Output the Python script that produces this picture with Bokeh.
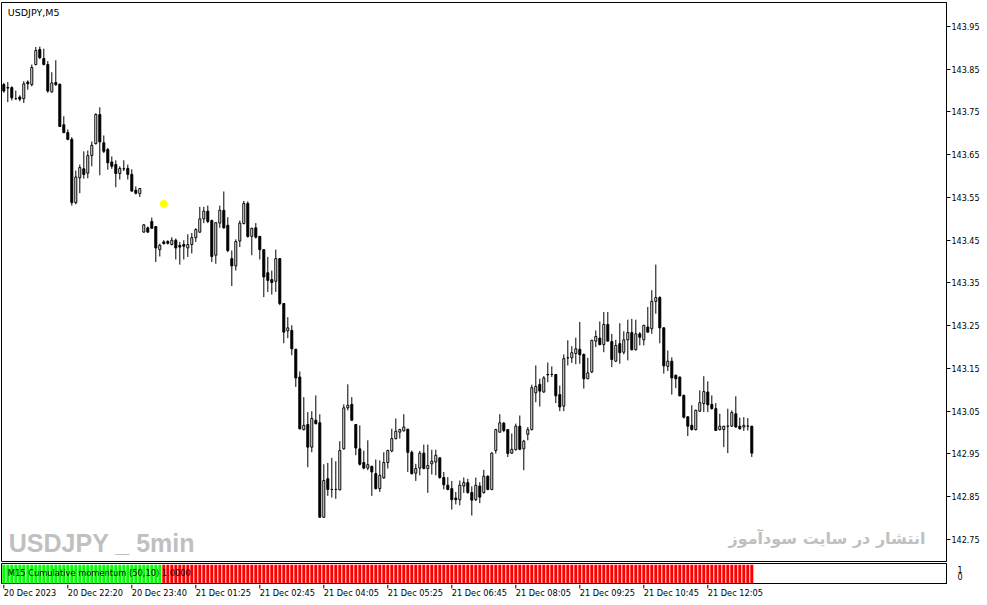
from bokeh.plotting import figure
from bokeh.models import (Range1d, FixedTicker, Label, LabelSet, ColumnDataSource,
                          NumeralTickFormatter)
from bokeh.layouts import column
from bokeh.embed import file_html
from bokeh.resources import INLINE
from bokeh.core.properties import value

symbol_title = "USDJPY,M5"
watermark_left = "USDJPY _ 5min"
watermark_right = "انتشار در سایت سودآموز"
indicator_caption = "M15 Cumulative momentum (50,10) 1.0000"

price_ticks = [142.75, 142.85, 142.95, 143.05, 143.15, 143.25, 143.35,
               143.45, 143.55, 143.65, 143.75, 143.85, 143.95]
time_tick_bars = [0, 16, 32, 48, 64, 80, 96, 112, 128, 144, 160, 176]
time_tick_labels = ["20 Dec 2023", "20 Dec 22:20", "20 Dec 23:40", "21 Dec 01:25",
                    "21 Dec 02:45", "21 Dec 04:05", "21 Dec 05:25", "21 Dec 06:45",
                    "21 Dec 08:05", "21 Dec 09:25", "21 Dec 10:45", "21 Dec 12:05"]

opens = [143.814, 143.807, 143.807, 143.781, 143.785, 143.781, 143.820, 143.814, 143.861, 143.896,
         143.875, 143.861, 143.797, 143.819, 143.815, 143.720, 143.702, 143.686, 143.538, 143.596,
         143.617, 143.607, 143.648, 143.676, 143.744, 143.678, 143.662, 143.633, 143.627, 143.606,
         143.617, 143.618, 143.604, 143.567, 143.559, 143.469, 143.479, 143.494, 143.482, 143.428,
         143.446, 143.447, 143.440, 143.450, 143.438, 143.440, 143.432, 143.440, 143.456, 143.469,
         143.500, 143.518, 143.496, 143.415, 143.490, 143.520, 143.485, 143.407, 143.390, 143.448,
         143.489, 143.536, 143.459, 143.479, 143.459, 143.428, 143.374, 143.358, 143.354, 143.407,
         143.302, 143.238, 143.239, 143.195, 143.130, 143.007, 143.019, 142.966, 143.029, 143.023,
         142.802, 142.892, 142.867, 142.867, 142.866, 142.962, 143.058, 143.066, 143.019, 142.962,
         142.930, 142.917, 142.921, 142.904, 142.869, 142.894, 142.930, 142.957, 142.986, 143.001,
         143.004, 143.008, 142.954, 142.905, 142.917, 142.952, 142.916, 142.927, 142.931, 142.941,
         142.895, 142.877, 142.869, 142.847, 142.843, 142.875, 142.883, 142.860, 142.843, 142.875,
         142.860, 142.898, 142.867, 142.958, 143.001, 143.022, 143.007, 142.952, 142.960, 143.015,
         142.962, 142.996, 143.007, 143.093, 143.113, 143.095, 143.136, 143.136, 143.136, 143.089,
         143.062, 143.175, 143.175, 143.185, 143.195, 143.183, 143.126, 143.142, 143.214, 143.221,
         143.206, 143.253, 143.213, 143.167, 143.208, 143.188, 143.217, 143.234, 143.194, 143.231,
         143.217, 143.247, 143.243, 143.307, 143.316, 143.245, 143.155, 143.167, 143.134, 143.130,
         143.087, 143.037, 143.017, 143.007, 143.050, 143.068, 143.095, 143.066, 143.056, 143.007,
         143.007, 143.015, 143.015, 143.044, 143.015, 143.013, 143.015, 143.015]
highs = [143.818, 143.820, 143.810, 143.800, 143.789, 143.822, 143.824, 143.861, 143.902, 143.903,
         143.898, 143.869, 143.843, 143.871, 143.816, 143.740, 143.709, 143.691, 143.613, 143.627,
         143.658, 143.660, 143.681, 143.747, 143.761, 143.695, 143.666, 143.646, 143.637, 143.623,
         143.637, 143.627, 143.616, 143.576, 143.572, 143.488, 143.482, 143.503, 143.483, 143.442,
         143.450, 143.450, 143.457, 143.454, 143.446, 143.450, 143.464, 143.467, 143.478, 143.528,
         143.528, 143.531, 143.498, 143.492, 143.531, 143.564, 143.504, 143.426, 143.452, 143.496,
         143.542, 143.541, 143.479, 143.490, 143.460, 143.429, 143.411, 143.379, 143.428, 143.408,
         143.303, 143.270, 143.251, 143.196, 143.143, 143.083, 143.048, 143.050, 143.087, 143.043,
         142.926, 142.929, 142.941, 142.933, 142.980, 143.066, 143.113, 143.083, 143.020, 143.017,
         142.958, 142.982, 142.923, 142.937, 142.935, 142.954, 142.960, 143.009, 143.033, 143.009,
         143.043, 143.009, 142.958, 142.927, 142.957, 142.972, 142.972, 142.960, 142.960, 142.942,
         142.908, 142.896, 142.887, 142.861, 142.888, 142.895, 142.892, 142.874, 142.895, 142.884,
         142.913, 142.900, 142.954, 143.009, 143.043, 143.025, 143.008, 142.998, 143.021, 143.040,
         142.983, 143.013, 143.112, 143.157, 143.126, 143.132, 143.164, 143.155, 143.137, 143.110,
         143.183, 143.216, 143.202, 143.222, 143.259, 143.185, 143.175, 143.217, 143.239, 143.260,
         143.282, 143.282, 143.231, 143.217, 143.256, 143.237, 143.264, 143.266, 143.264, 143.235,
         143.252, 143.294, 143.333, 143.393, 143.319, 143.247, 143.192, 143.176, 143.136, 143.131,
         143.089, 143.038, 143.064, 143.054, 143.099, 143.132, 143.120, 143.087, 143.069, 143.044,
         143.016, 143.056, 143.052, 143.085, 143.035, 143.036, 143.034, 143.016]
lows = [143.795, 143.773, 143.777, 143.779, 143.775, 143.771, 143.802, 143.810, 143.859, 143.874,
        143.859, 143.795, 143.795, 143.811, 143.715, 143.700, 143.684, 143.531, 143.534, 143.560,
        143.594, 143.595, 143.623, 143.674, 143.602, 143.654, 143.615, 143.617, 143.574, 143.592,
        143.612, 143.592, 143.563, 143.557, 143.551, 143.468, 143.467, 143.477, 143.399, 143.412,
        143.440, 143.440, 143.438, 143.405, 143.393, 143.405, 143.411, 143.419, 143.446, 143.467,
        143.490, 143.490, 143.399, 143.395, 143.479, 143.477, 143.422, 143.343, 143.379, 143.434,
        143.487, 143.456, 143.415, 143.454, 143.405, 143.317, 143.329, 143.323, 143.329, 143.298,
        143.209, 143.221, 143.181, 143.107, 143.007, 143.005, 142.919, 142.954, 143.019, 142.801,
        142.801, 142.852, 142.848, 142.845, 142.865, 142.960, 143.052, 143.027, 142.947, 142.923,
        142.914, 142.912, 142.852, 142.867, 142.861, 142.892, 142.916, 142.954, 142.984, 142.986,
        143.003, 142.908, 142.902, 142.887, 142.900, 142.914, 142.859, 142.902, 142.900, 142.892,
        142.867, 142.865, 142.820, 142.832, 142.830, 142.859, 142.857, 142.806, 142.840, 142.835,
        142.857, 142.865, 142.865, 142.951, 143.000, 143.001, 142.943, 142.950, 142.958, 142.959,
        142.912, 142.982, 143.005, 143.071, 143.061, 143.093, 143.118, 143.130, 143.069, 143.050,
        143.050, 143.157, 143.163, 143.160, 143.161, 143.103, 143.125, 143.139, 143.200, 143.204,
        143.188, 143.213, 143.153, 143.165, 143.161, 143.183, 143.169, 143.192, 143.192, 143.204,
        143.204, 143.234, 143.231, 143.278, 143.209, 143.138, 143.144, 143.089, 143.104, 143.085,
        143.033, 142.992, 143.005, 143.005, 143.049, 143.048, 143.048, 143.054, 143.004, 143.005,
        142.966, 142.952, 143.013, 143.012, 143.007, 143.004, 143.005, 142.943]
closes = [143.799, 143.806, 143.783, 143.781, 143.780, 143.816, 143.816, 143.854, 143.894, 143.877,
          143.861, 143.799, 143.818, 143.814, 143.716, 143.702, 143.686, 143.538, 143.598, 143.620,
          143.604, 143.648, 143.672, 143.744, 143.680, 143.658, 143.631, 143.623, 143.606, 143.618,
          143.617, 143.604, 143.565, 143.560, 143.571, 143.486, 143.469, 143.478, 143.432, 143.438,
          143.442, 143.443, 143.450, 143.432, 143.434, 143.436, 143.440, 143.456, 143.475, 143.500,
          143.518, 143.494, 143.412, 143.491, 143.520, 143.479, 143.426, 143.390, 143.447, 143.490,
          143.536, 143.459, 143.478, 143.457, 143.428, 143.364, 143.356, 143.351, 143.407, 143.302,
          143.235, 143.245, 143.196, 143.128, 143.009, 143.017, 142.966, 143.033, 143.021, 142.802,
          142.888, 142.867, 142.867, 142.867, 142.958, 143.058, 143.064, 143.029, 142.964, 142.926,
          142.917, 142.925, 142.908, 142.869, 142.900, 142.930, 142.958, 142.986, 143.003, 143.007,
          143.013, 142.954, 142.904, 142.916, 142.952, 142.916, 142.923, 142.933, 142.947, 142.895,
          142.878, 142.867, 142.843, 142.843, 142.877, 142.883, 142.860, 142.842, 142.877, 142.849,
          142.898, 142.867, 142.952, 143.007, 143.023, 143.005, 142.951, 142.961, 143.015, 142.961,
          142.980, 143.007, 143.105, 143.108, 143.097, 143.128, 143.135, 143.136, 143.086, 143.060,
          143.173, 143.175, 143.187, 143.196, 143.182, 143.126, 143.140, 143.216, 143.225, 143.206,
          143.253, 143.214, 143.171, 143.204, 143.187, 143.217, 143.234, 143.194, 143.231, 143.223,
          143.251, 143.235, 143.307, 143.316, 143.245, 143.156, 143.167, 143.128, 143.126, 143.086,
          143.036, 143.015, 143.007, 143.052, 143.070, 143.096, 143.065, 143.056, 143.005, 143.015,
          143.015, 143.015, 143.047, 143.013, 143.009, 143.017, 143.015, 142.952]

# indicator state per bar, as run lengths
momentum_runs = [("up", 40), ("down", 148)]
# yellow marker in the main window
signal_bar = [40]
signal_price = [143.535]

N = len(opens)
bars = list(range(N))
body_top = [max(o, c) for o, c in zip(opens, closes)]
body_bot = [min(o, c) for o, c in zip(opens, closes)]
body_fill = ["white" if c >= o else "black" for o, c in zip(opens, closes)]
candles = ColumnDataSource(dict(x=bars, h=highs, l=lows, top=body_top, bot=body_bot, fill=body_fill))

mom_colors = []
for state, count in momentum_runs:
    mom_colors += [("#00ff00" if state == "up" else "#ff0000")] * count
ind = ColumnDataSource(dict(x=bars, top=[1] * N, bot=[0] * N, color=mom_colors))

FONT = "DejaVu Sans"
LBL = "8px"
FRAME_W = 945

xr = Range1d(-0.575, 235.675)

# ---------------- main price window ----------------
p1 = figure(frame_width=FRAME_W, frame_height=559, x_range=xr,
            y_range=Range1d(142.6985, 144.0061),
            output_backend="svg", toolbar_location=None,
            y_axis_location="right", x_axis_location=None,
            min_border_left=1, min_border_top=2, min_border_bottom=1, min_border_right=0,
            background_fill_color="white", border_fill_color="white")
p1.grid.visible = False
p1.outline_line_color = "black"
p1.outline_line_width = 1
ya = p1.yaxis[0]
ya.ticker = FixedTicker(ticks=price_ticks)
ya.formatter = NumeralTickFormatter(format="0.00")
ya.major_tick_out = 4
ya.major_tick_in = 0
ya.minor_tick_out = 0
ya.minor_tick_in = 0
ya.axis_line_color = "black"
ya.major_tick_line_color = "black"
ya.major_label_standoff = 1
ya.major_label_text_font = FONT
ya.major_label_text_font_size = LBL
ya.major_label_text_color = "black"

p1.segment(x0="x", y0="l", x1="x", y1="h", source=candles, line_color="black", line_width=1)
p1.vbar(x="x", top="top", bottom="bot", width=0.5, source=candles,
        fill_color="fill", line_color="black", line_width=1)
p1.scatter(x=signal_bar, y=signal_price, size=7, marker="circle",
           fill_color="#ffff00", line_color="#ffff00")

p1.add_layout(Label(x=1.0, y=143.9816, text=symbol_title, text_font=FONT,
                    text_font_size="9.5px", text_color="black", text_baseline="alphabetic"))
p1.add_layout(Label(x=1.25, y=142.7418, text=watermark_left, text_font="Liberation Sans",
                    text_font_size="25px", text_font_style="bold", text_color="#c0c0c0",
                    text_baseline="alphabetic"))
p1.add_layout(Label(x=230.4, y=142.7516, text=watermark_right, text_font="DejaVu Sans",
                    text_font_size="16px", text_font_style="bold", text_color="#c0c0c0",
                    text_align="right", text_baseline="alphabetic"))

# ---------------- indicator window ----------------
p2 = figure(frame_width=FRAME_W, frame_height=21, x_range=xr, y_range=Range1d(-0.06, 1.06),
            output_backend="svg", toolbar_location=None,
            y_axis_location="right", x_axis_location=None,
            min_border_left=1, min_border_top=1, min_border_bottom=0, min_border_right=0,
            background_fill_color="white", border_fill_color="white")
p2.grid.visible = False
p2.outline_line_color = "black"
p2.vbar(x="x", top="top", bottom="bot", width=0.75, source=ind,
        fill_color="color", line_color=None)
p2.add_layout(Label(x=1.0, y=0.58, text=indicator_caption, text_font=FONT,
                    text_font_size="8.3px", text_color="black", text_baseline="middle"))

ya2 = p2.yaxis[0]
ya2.ticker = FixedTicker(ticks=[0.74, 0.39])
ya2.major_label_overrides = {0.74: "1", 0.39: "0"}
ya2.major_tick_line_color = None
ya2.minor_tick_line_color = None
ya2.axis_line_color = "black"
ya2.major_label_standoff = 5
ya2.major_label_text_font = FONT
ya2.major_label_text_font_size = LBL
ya2.major_label_text_color = "black"

# ---------------- time scale strip: tick marks + left-aligned labels ----------------
p3 = figure(frame_width=FRAME_W, frame_height=13, x_range=xr, y_range=Range1d(0, 13),
            output_backend="svg", toolbar_location=None,
            x_axis_location=None, y_axis_location=None,
            min_border_left=1, min_border_top=0, min_border_bottom=0, min_border_right=0,
            background_fill_color="white", border_fill_color="white")
p3.grid.visible = False
p3.outline_line_color = None
n_t = len(time_tick_bars)
tl = ColumnDataSource(dict(x=time_tick_bars, t=time_tick_labels,
                           y0=[13.0] * n_t, y1=[9.0] * n_t, ly=[4.4] * n_t))
p3.segment(x0="x", y0="y0", x1="x", y1="y1", source=tl, line_color="black", line_width=1)
p3.add_layout(LabelSet(x="x", y="ly", text="t", source=tl, text_font=value(FONT),
                       text_font_size=value("8.2px"), text_color="black",
                       text_align="left", text_baseline="middle"))

layout = column(p1, p2, p3, spacing=0)
open("out.html", "w").write(file_html(layout, INLINE))
